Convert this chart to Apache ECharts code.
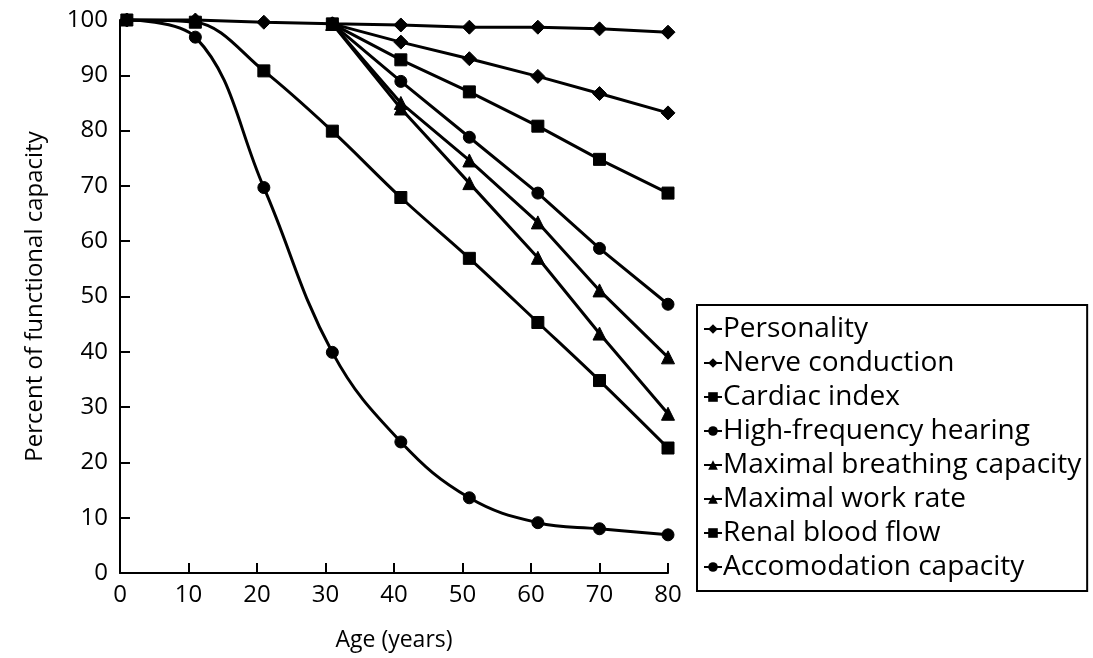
<!DOCTYPE html>
<html>
<head>
<meta charset="utf-8">
<script src="https://cdn.jsdelivr.net/npm/echarts@6/dist/echarts.min.js"></script>
<style>html,body{margin:0;padding:0;background:#fff}#c{width:1093px;height:658px}</style>
</head>
<body>
<div id="c"></div>
<script>
var ages = [1, 11, 21, 31, 41, 51, 61, 70, 80];
var xTicks = ['0','10','20','30','40','50','60','70','80'];
var personality = [100, 100, 99.6, 99.3, 99.1, 98.7, 98.7, 98.4, 97.8];
var nerveConduction = [null, null, null, 99.3, 96, 93, 89.8, 86.7, 83.2];
var cardiacIndex = [null, null, null, 99.3, 92.8, 87, 80.8, 74.8, 68.7];
var hearing = [null, null, null, 99.3, 88.9, 78.8, 68.7, 58.7, 48.6];
var breathing = [null, null, null, 99.3, 85, 74.6, 63.4, 51.1, 39];
var workRate = [null, null, null, 99.3, 84, 70.5, 57, 43.3, 28.8];
var renal = [100, 99.6, 90.8, 79.9, 67.9, 56.9, 45.3, 34.8, 22.6];
var accommodation = [100, 96.9, 69.7, 39.9, 23.7, 13.6, 9.1, 8, 6.9];

var seriesDefs = [
  {name: 'Personality', data: personality, symbol: 'diamond', size: 14, smooth: false},
  {name: 'Nerve conduction', data: nerveConduction, symbol: 'diamond', size: 14, smooth: false},
  {name: 'Cardiac index', data: cardiacIndex, symbol: 'rect', size: 12, smooth: false},
  {name: 'High-frequency hearing', data: hearing, symbol: 'circle', size: 12, smooth: false},
  {name: 'Maximal breathing capacity', data: breathing, symbol: 'triangle', size: 13, smooth: false},
  {name: 'Maximal work rate', data: workRate, symbol: 'triangle', size: 13, smooth: false},
  {name: 'Renal blood flow', data: renal, symbol: 'rect', size: 12, smooth: 0.35},
  {name: 'Accomodation capacity', data: accommodation, symbol: 'circle', size: 12, smooth: 0.4}
];

var FONT = '"Open Sans", Lato, sans-serif';
var chart = echarts.init(document.getElementById('c'), null, {renderer: 'canvas'});
chart.setOption({
  animation: false,
  backgroundColor: '#fff',
  grid: {left: 120, right: 425, top: 20, bottom: 85, containLabel: false},
  xAxis: {
    type: 'value', min: 0, max: 80, interval: 10,
    name: 'Age (years)', nameLocation: 'middle', nameGap: 56,
    nameTextStyle: {color: '#000', fontSize: 23, fontFamily: FONT},
    axisLine: {lineStyle: {color: '#000', width: 2}},
    axisTick: {inside: true, length: 10, lineStyle: {color: '#000', width: 2}},
    axisLabel: {color: '#000', fontSize: 24, fontFamily: FONT, margin: 10,
      formatter: function (v) { return xTicks[Math.round(v / 10)]; }},
    splitLine: {show: false}
  },
  yAxis: {
    type: 'value', min: 0, max: 100, interval: 10,
    name: 'Percent of functional capacity', nameLocation: 'middle', nameGap: 73, nameRotate: 90,
    nameTextStyle: {color: '#000', fontSize: 24, fontFamily: FONT},
    axisLine: {lineStyle: {color: '#000', width: 2}},
    axisTick: {inside: true, length: 10, lineStyle: {color: '#000', width: 2}},
    axisLabel: {color: '#000', fontSize: 24, fontFamily: FONT, margin: 12},
    splitLine: {show: false}
  },
  legend: {
    orient: 'vertical', left: 697, top: 305,
    padding: [10, 6, 10, 6], itemGap: 6,
    itemWidth: 18, itemHeight: 12,
    borderColor: '#000', borderWidth: 2,
    textStyle: {color: '#000', fontSize: 28, lineHeight: 26, fontFamily: FONT, padding: [0, 0, 0, -4]},
    data: seriesDefs.map(function (s) { return s.name; })
  },
  series: seriesDefs.map(function (s) {
    return {
      name: s.name, type: 'line',
      data: ages.map(function (a, i) { return s.data[i] == null ? null : [a, s.data[i]]; }).filter(function (p) { return p; }),
      symbol: s.symbol, symbolSize: s.size, showSymbol: true,
      smooth: s.smooth, clip: false,
      lineStyle: {color: '#000', width: 3},
      itemStyle: {color: '#000', borderColor: '#000'},
      emphasis: {disabled: true}
    };
  })
});
</script>
</body>
</html>
